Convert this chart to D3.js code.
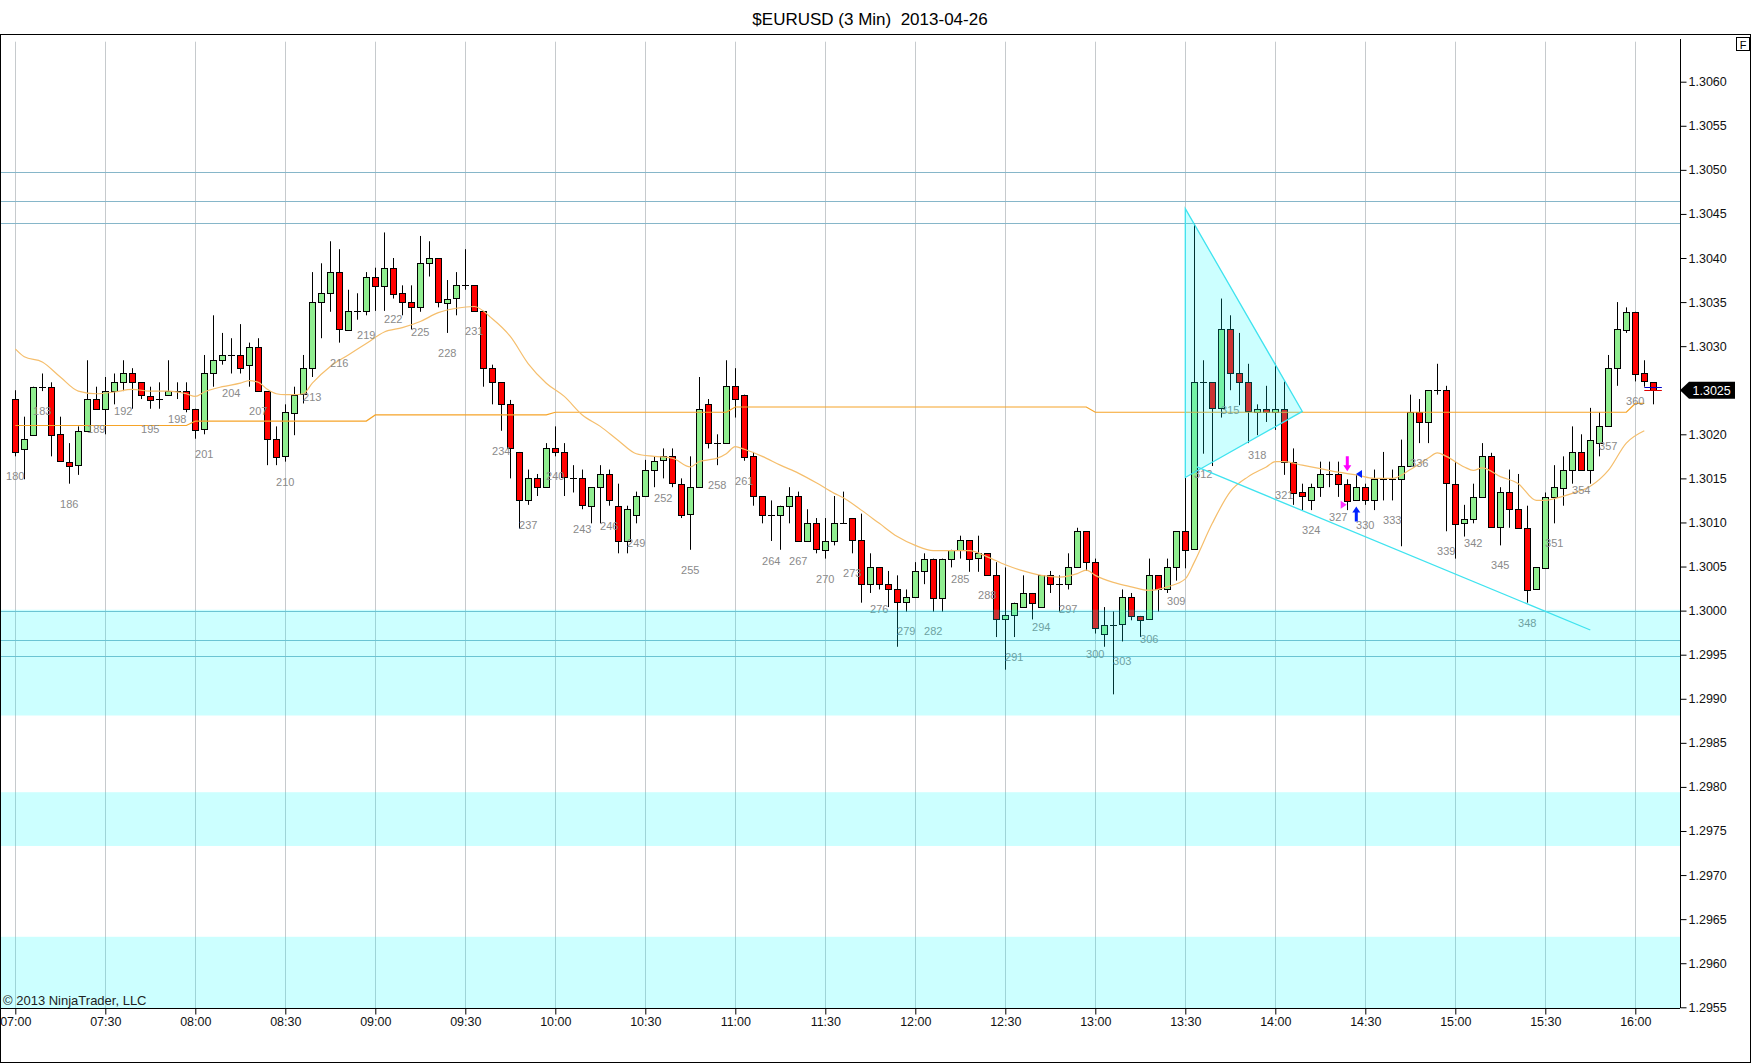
<!DOCTYPE html>
<html>
<head>
<meta charset="utf-8">
<script src="https://cdn.jsdelivr.net/npm/d3@7"></script>
<style>
  body { margin: 0; background: #fff; }
  svg { display: block; font-family: "Liberation Sans", Arial, sans-serif; }
</style>
</head>
<body>
<div id="chart"></div>
<script>
// bar numbers 180..362, 3 minute bars, bar 180 = 07:00
var firstBar = 180;

var opens = [
  1.30240,1.30184,1.30200,1.30254,1.30254,1.30200,1.30169,1.30165,1.30204,1.30240,
  1.30229,1.30249,1.30259,1.30269,1.30259,1.30244,1.30240,1.30244,1.30249,1.30249,
  1.30229,1.30205,1.30269,1.30284,1.30290,1.30290,1.30279,1.30299,1.30249,1.30195,
  1.30175,1.30225,1.30245,1.30275,1.30350,1.30360,1.30384,1.30319,1.30340,1.30340,
  1.30379,1.30369,1.30389,1.30360,1.30350,1.30344,1.30394,1.30400,1.30350,1.30354,
  1.30369,1.30369,1.30340,1.30275,1.30259,1.30234,1.30180,1.30125,1.30150,1.30140,
  1.30184,1.30180,1.30150,1.30150,1.30119,1.30140,1.30155,1.30119,1.30079,1.30109,
  1.30130,1.30160,1.30170,1.30175,1.30144,1.30109,1.30140,1.30234,1.30190,1.30190,
  1.30255,1.30245,1.30175,1.30130,1.30109,1.30109,1.30119,1.30130,1.30079,1.30099,
  1.30069,1.30079,1.30099,1.30105,1.30080,1.30030,1.30049,1.30030,1.30024,1.30009,
  1.30015,1.30045,1.30059,1.30015,1.30059,1.30069,1.30080,1.30059,1.30065,1.30040,
  1.29990,1.29995,1.30004,1.30020,1.30004,1.30040,1.30030,1.30030,1.30049,1.30090,
  1.30055,1.29974,1.29984,1.29984,1.30015,1.29994,1.29990,1.30040,1.30024,1.30049,
  1.30090,1.30069,1.30259,1.30259,1.30229,1.30319,1.30269,1.30259,1.30226,1.30229,
  1.30226,1.30229,1.30169,1.30134,1.30125,1.30140,1.30155,1.30155,1.30144,1.30125,
  1.30140,1.30125,1.30149,1.30149,1.30149,1.30164,1.30225,1.30214,1.30250,1.30250,
  1.30144,1.30099,1.30104,1.30129,1.30175,1.30094,1.30134,1.30115,1.30094,1.30024,
  1.30049,1.30129,1.30140,1.30160,1.30180,1.30160,1.30190,1.30209,1.30275,1.30319,
  1.30339,1.30269,1.30259
];
var highs = [
  1.30250,1.30220,1.30254,1.30269,1.30259,1.30220,1.30190,1.30209,1.30284,1.30254,
  1.30265,1.30269,1.30284,1.30275,1.30259,1.30254,1.30259,1.30284,1.30259,1.30259,
  1.30229,1.30290,1.30335,1.30315,1.30309,1.30325,1.30304,1.30309,1.30249,1.30209,
  1.30234,1.30254,1.30290,1.30384,1.30394,1.30419,1.30410,1.30364,1.30360,1.30384,
  1.30389,1.30429,1.30400,1.30369,1.30369,1.30425,1.30419,1.30400,1.30375,1.30384,
  1.30410,1.30369,1.30340,1.30279,1.30259,1.30239,1.30180,1.30160,1.30155,1.30190,
  1.30209,1.30190,1.30165,1.30160,1.30140,1.30165,1.30160,1.30144,1.30119,1.30135,
  1.30171,1.30175,1.30184,1.30184,1.30150,1.30175,1.30265,1.30240,1.30200,1.30284,
  1.30275,1.30245,1.30180,1.30130,1.30125,1.30119,1.30140,1.30135,1.30115,1.30105,
  1.30105,1.30130,1.30135,1.30105,1.30110,1.30065,1.30049,1.30045,1.30040,1.30024,
  1.30055,1.30065,1.30059,1.30059,1.30069,1.30085,1.30080,1.30085,1.30065,1.30055,
  1.30049,1.30009,1.30040,1.30020,1.30040,1.30045,1.30040,1.30065,1.30094,1.30090,
  1.30059,1.30004,1.29999,1.30024,1.30020,1.29994,1.30059,1.30040,1.30059,1.30090,
  1.30151,1.30439,1.30284,1.30259,1.30354,1.30335,1.30315,1.30280,1.30234,1.30255,
  1.30280,1.30260,1.30184,1.30144,1.30144,1.30169,1.30169,1.30169,1.30149,1.30154,
  1.30144,1.30160,1.30180,1.30160,1.30194,1.30245,1.30240,1.30250,1.30280,1.30255,
  1.30169,1.30120,1.30144,1.30190,1.30179,1.30140,1.30160,1.30155,1.30119,1.30049,
  1.30134,1.30165,1.30175,1.30209,1.30200,1.30230,1.30225,1.30290,1.30350,1.30344,
  1.30339,1.30284,1.30259
];
var lows = [
  1.30175,1.30149,1.30200,1.30249,1.30175,1.30169,1.30144,1.30154,1.30204,1.30229,
  1.30200,1.30234,1.30249,1.30229,1.30240,1.30229,1.30229,1.30244,1.30240,1.30225,
  1.30195,1.30200,1.30254,1.30279,1.30269,1.30269,1.30254,1.30249,1.30165,1.30165,
  1.30169,1.30199,1.30235,1.30265,1.30309,1.30339,1.30304,1.30319,1.30330,1.30335,
  1.30340,1.30340,1.30354,1.30335,1.30319,1.30339,1.30379,1.30344,1.30315,1.30335,
  1.30364,1.30340,1.30254,1.30234,1.30204,1.30150,1.30093,1.30120,1.30130,1.30140,
  1.30175,1.30130,1.30134,1.30115,1.30099,1.30099,1.30119,1.30065,1.30065,1.30099,
  1.30130,1.30140,1.30150,1.30140,1.30105,1.30069,1.30140,1.30184,1.30165,1.30190,
  1.30219,1.30170,1.30119,1.30099,1.30079,1.30069,1.30099,1.30079,1.30079,1.30065,
  1.30059,1.30074,1.30099,1.30065,1.30009,1.30020,1.30024,1.30004,1.29959,1.29999,
  1.30015,1.30030,1.29999,1.29999,1.30049,1.30059,1.30044,1.30044,1.30040,1.29970,
  1.29933,1.29970,1.30004,1.29990,1.30004,1.30020,1.29999,1.30024,1.30049,1.30045,
  1.29974,1.29959,1.29905,1.29965,1.29989,1.29970,1.29990,1.29999,1.30020,1.30034,
  1.30048,1.30069,1.30178,1.30164,1.30219,1.30250,1.30233,1.30190,1.30199,1.30214,
  1.30205,1.30154,1.30120,1.30114,1.30114,1.30129,1.30140,1.30129,1.30114,1.30125,
  1.30120,1.30114,1.30125,1.30125,1.30073,1.30164,1.30190,1.30190,1.30245,1.30090,
  1.30059,1.30084,1.30099,1.30129,1.30094,1.30074,1.30094,1.30094,1.30009,1.30024,
  1.30049,1.30099,1.30119,1.30144,1.30160,1.30144,1.30175,1.30209,1.30255,1.30315,
  1.30260,1.30254,1.30234
];
var closes = [
  1.30180,1.30195,1.30254,1.30254,1.30200,1.30169,1.30165,1.30204,1.30240,1.30229,
  1.30249,1.30259,1.30269,1.30259,1.30244,1.30240,1.30240,1.30249,1.30249,1.30229,
  1.30205,1.30269,1.30284,1.30290,1.30290,1.30275,1.30299,1.30249,1.30195,1.30175,
  1.30225,1.30245,1.30275,1.30350,1.30360,1.30384,1.30319,1.30340,1.30340,1.30379,
  1.30369,1.30389,1.30360,1.30350,1.30344,1.30394,1.30400,1.30350,1.30354,1.30369,
  1.30369,1.30340,1.30275,1.30259,1.30234,1.30184,1.30125,1.30150,1.30140,1.30184,
  1.30180,1.30152,1.30150,1.30119,1.30140,1.30155,1.30125,1.30079,1.30115,1.30130,
  1.30160,1.30170,1.30175,1.30144,1.30109,1.30140,1.30229,1.30190,1.30190,1.30255,
  1.30240,1.30175,1.30130,1.30109,1.30109,1.30119,1.30130,1.30079,1.30099,1.30069,
  1.30079,1.30099,1.30099,1.30080,1.30030,1.30049,1.30030,1.30024,1.30009,1.30015,
  1.30045,1.30059,1.30015,1.30059,1.30069,1.30080,1.30059,1.30065,1.30040,1.29990,
  1.29995,1.30009,1.30020,1.30009,1.30040,1.30030,1.30030,1.30049,1.30090,1.30055,
  1.29980,1.29984,1.29984,1.30015,1.29994,1.29989,1.30040,1.30024,1.30049,1.30090,
  1.30069,1.30259,1.30259,1.30229,1.30319,1.30269,1.30259,1.30226,1.30229,1.30226,
  1.30229,1.30169,1.30134,1.30129,1.30140,1.30155,1.30155,1.30144,1.30125,1.30140,
  1.30125,1.30149,1.30149,1.30149,1.30164,1.30225,1.30214,1.30250,1.30250,1.30144,
  1.30099,1.30104,1.30129,1.30175,1.30094,1.30134,1.30115,1.30094,1.30024,1.30049,
  1.30129,1.30140,1.30160,1.30180,1.30160,1.30194,1.30209,1.30275,1.30319,1.30339,
  1.30269,1.30260,1.30250
];

// light moving average at these bars
var maBars = [180,181,183,185,187,189,191,193,195,197,199,200,201,203,205,206,207,208,209,210,
  211,212,213,215,217,219,221,223,225,227,229,231,233,235,237,239,241,243,245,247,
  249,251,253,255,256,257,258,259,260,261,263,265,267,269,271,272,274,276,278,280,
  282,284,286,288,290,292,294,296,298,299,300,302,304,306,308,310,311,313,315,317,
  319,320,321,323,325,327,329,331,333,335,337,338,339,341,342,343,345,347,349,350,
  351,353,355,357,359,361];
var maValues = [1.30297,1.30288,1.30282,1.30265,1.30249,1.30246,1.30248,1.30251,1.30249,1.30249,
  1.30246,1.30243,1.30248,1.30254,1.30258,1.30261,1.30259,1.30251,1.30246,1.30245,
  1.30245,1.30246,1.30258,1.30277,1.30290,1.30303,1.30316,1.30321,1.30328,1.30338,
  1.30343,1.30345,1.30331,1.30311,1.30280,1.30258,1.30243,1.30222,1.30209,1.30193,
  1.30178,1.30175,1.30173,1.30163,1.30169,1.30171,1.30173,1.30178,1.30186,1.30183,
  1.30175,1.30165,1.30156,1.30145,1.30133,1.30128,1.30114,1.30099,1.30084,1.30074,
  1.30068,1.30068,1.30068,1.30061,1.30052,1.30045,1.30040,1.30038,1.30042,1.30046,
  1.30040,1.30032,1.30027,1.30023,1.30027,1.30036,1.30055,1.30099,1.30135,1.30152,
  1.30163,1.30169,1.30169,1.30165,1.30161,1.30157,1.30154,1.30150,1.30150,1.30160,
  1.30173,1.30179,1.30175,1.30163,1.30159,1.30162,1.30152,1.30144,1.30125,1.30125,
  1.30127,1.30133,1.30141,1.30159,1.30190,1.30204];

// darker stepped average
var stepBars = [180,199,200,219,220,239,240,259,260,299,300,359,360,361];
var stepValues = [1.30210,1.30210,1.30215,1.30215,1.30222,1.30222,1.30225,1.30225,
  1.30231,1.30231,1.30225,1.30225,1.30235,1.30235];

var priceTicks = [1.2955,1.2960,1.2965,1.2970,1.2975,1.2980,1.2985,1.2990,1.2995,1.3000,
  1.3005,1.3010,1.3015,1.3020,1.3025,1.3030,1.3035,1.3040,1.3045,1.3050,1.3055,1.3060];

var levelLines = [1.30497, 1.30465, 1.30440, 1.30000, 1.29967, 1.29948];
var zoneTops = [1.30001, 1.29794, 1.29630];
var zoneBottoms = [1.29881, 1.29733, 1.29500];

var triangleBars = [310, 323, 310];
var trianglePrices = [1.30456, 1.30226, 1.30151];
var trendBars = [311.3, 355];
var trendPrices = [1.30163, 1.29978];

var arrowBars = [328, 329];
var arrowPrices = [1.30158, 1.30118];
var arrowDirs = ["down", "up"];
var arrowColors = ["#ff00ff", "#0022ff"];
var pointerBars = [327.6, 329.3];
var pointerPrices = [1.30120, 1.30155];
var pointerDirs = ["right", "left"];
var pointerColors = ["#ff33ff", "#0022ff"];

var lastPrice = 1.3025;
var askPrice = 1.30254, bidPrice = 1.30250;

var W = 1752, H = 1064;
var plot = { left: 1, right: 1680, top: 35, bottom: 1008 };

var base = new Date(2013, 3, 26, 7, 0).getTime();
function barTime(n) { return new Date(base + (n - firstBar) * 180000); }

var x = d3.scaleTime()
  .domain([barTime(180), barTime(362)])
  .range([15.3, 15.3 + 182 * 9]);
var y = d3.scaleLinear().domain([1.2955, 1.3060]).range([1007.3, 81.7]);
function xb(n) { return x(barTime(n)); }

var bars = opens.map(function (o, i) {
  return { n: firstBar + i, o: o, h: highs[i], l: lows[i], c: closes[i] };
});

var svg = d3.select("#chart").append("svg")
  .attr("width", W).attr("height", H);

svg.append("text")
  .attr("x", 870).attr("y", 25)
  .attr("text-anchor", "middle")
  .style("font-size", "17px")
  .style("white-space", "pre")
  .attr("fill", "#000")
  .text("$EURUSD (3 Min)  2013-04-26");

svg.append("rect")
  .attr("x", 0.5).attr("y", 34.5)
  .attr("width", 1750).attr("height", 1028)
  .attr("fill", "#fff").attr("stroke", "#000");

svg.append("clipPath").attr("id", "plotclip")
  .append("rect")
  .attr("x", plot.left).attr("y", plot.top)
  .attr("width", plot.right - plot.left).attr("height", plot.bottom - plot.top);

var g = svg.append("g").attr("clip-path", "url(#plotclip)");

// vertical grid
var timeTicks = x.ticks(d3.timeMinute.every(30));
g.append("g").selectAll("line").data(timeTicks).enter().append("line")
  .attr("x1", function (d) { return Math.round(x(d)) + 0.5; })
  .attr("x2", function (d) { return Math.round(x(d)) + 0.5; })
  .attr("y1", 41.7).attr("y2", plot.bottom)
  .attr("stroke", "#c6cacd").attr("stroke-width", 1);

// horizontal levels
g.append("g").selectAll("line").data(levelLines).enter().append("line")
  .attr("x1", plot.left).attr("x2", plot.right)
  .attr("y1", function (d) { return Math.round(y(d)) + 0.5; })
  .attr("y2", function (d) { return Math.round(y(d)) + 0.5; })
  .attr("stroke", "#86b6c9").attr("stroke-width", 1);

// candles
var candles = g.append("g").attr("class", "candles");
candles.selectAll("line.wick").data(bars).enter().append("line")
  .attr("class", "wick")
  .attr("x1", function (d) { return Math.round(xb(d.n)) + 0.5; })
  .attr("x2", function (d) { return Math.round(xb(d.n)) + 0.5; })
  .attr("y1", function (d) { return y(d.h); })
  .attr("y2", function (d) { return y(d.l); })
  .attr("stroke", "#000").attr("stroke-width", 1);

candles.selectAll("rect.body").data(bars.filter(function (d) { return d.o !== d.c; }))
  .enter().append("rect")
  .attr("class", "body")
  .attr("x", function (d) { return Math.round(xb(d.n)) - 2.5; })
  .attr("y", function (d) { return Math.round(y(Math.max(d.o, d.c))) + 0.5; })
  .attr("width", 6)
  .attr("height", function (d) { return Math.max(1, Math.round(y(Math.min(d.o, d.c)) - y(Math.max(d.o, d.c)))); })
  .attr("fill", function (d) { return d.c > d.o ? "#90ee90" : "#ff0000"; })
  .attr("stroke", "#000").attr("stroke-width", 1);

candles.selectAll("line.doji").data(bars.filter(function (d) { return d.o === d.c; }))
  .enter().append("line")
  .attr("class", "doji")
  .attr("x1", function (d) { return Math.round(xb(d.n)) - 3; })
  .attr("x2", function (d) { return Math.round(xb(d.n)) + 4; })
  .attr("y1", function (d) { return Math.round(y(d.o)) + 0.5; })
  .attr("y2", function (d) { return Math.round(y(d.o)) + 0.5; })
  .attr("stroke", "#000").attr("stroke-width", 1);

// averages
var stepLine = d3.line()
  .x(function (d, i) { return xb(stepBars[i]); })
  .y(function (d) { return y(d); });
g.append("path").datum(stepValues)
  .attr("d", stepLine)
  .attr("fill", "none").attr("stroke", "#f6a428").attr("stroke-width", 1.2);

var maLine = d3.line()
  .x(function (d, i) { return xb(maBars[i]); })
  .y(function (d) { return y(d); })
  .curve(d3.curveMonotoneX);
g.append("path").datum(maValues)
  .attr("d", maLine)
  .attr("fill", "none").attr("stroke", "#f5be6c").attr("stroke-width", 1.2);

// bar numbers every 3 bars
g.append("g").selectAll("text").data(bars.filter(function (d) { return (d.n - firstBar) % 3 === 0 && d.n <= 360; }))
  .enter().append("text")
  .attr("x", function (d) { return xb(d.n); })
  .attr("y", function (d) { return y(d.l) + 24; })
  .attr("text-anchor", "middle")
  .style("font-size", "11px")
  .attr("fill", "#8a8a8a")
  .text(function (d) { return d.n; });

// cyan zones drawn over the bars
g.append("g").selectAll("rect").data(zoneTops).enter().append("rect")
  .attr("x", plot.left).attr("width", plot.right - plot.left)
  .attr("y", function (d) { return y(d); })
  .attr("height", function (d, i) { return y(zoneBottoms[i]) - y(d); })
  .attr("fill", "rgba(0,255,255,0.2)");

// triangle and trend line
g.append("path")
  .attr("d", d3.line()(triangleBars.map(function (b, i) { return [xb(b), y(trianglePrices[i])]; })) + "Z")
  .attr("fill", "rgba(0,255,255,0.2)")
  .attr("stroke", "#3fe3ef").attr("stroke-width", 1.3);
g.append("path")
  .attr("d", d3.line()(trendBars.map(function (b, i) { return [xb(b), y(trendPrices[i])]; })))
  .attr("fill", "none")
  .attr("stroke", "#3fe3ef").attr("stroke-width", 1.3);

// signal arrows
arrowBars.forEach(function (b, i) {
  var cx = xb(b), ty = y(arrowPrices[i]);
  var s = arrowDirs[i] === "down" ? -1 : 1;
  var pts = [[0, 0], [4, 6 * s], [1.5, 6 * s], [1.5, 15 * s], [-1.5, 15 * s], [-1.5, 6 * s], [-4, 6 * s]];
  g.append("path")
    .attr("d", d3.line()(pts.map(function (p) { return [cx + p[0], ty + p[1]]; })) + "Z")
    .attr("fill", arrowColors[i]);
});
pointerBars.forEach(function (b, i) {
  var cx = xb(b), cy = y(pointerPrices[i]);
  var s = pointerDirs[i] === "right" ? 1 : -1;
  var pts = [[3 * s, 0], [-3 * s, -4], [-3 * s, 4]];
  g.append("path")
    .attr("d", d3.line()(pts.map(function (p) { return [cx + p[0], cy + p[1]]; })) + "Z")
    .attr("fill", pointerColors[i]);
});

// bid / ask lines on the last bar
g.append("line")
  .attr("x1", xb(361)).attr("x2", xb(362.95))
  .attr("y1", Math.round(y(askPrice)) + 0.5).attr("y2", Math.round(y(askPrice)) + 0.5)
  .attr("stroke", "#0000cc").attr("stroke-width", 1);
g.append("line")
  .attr("x1", xb(361)).attr("x2", xb(362.95))
  .attr("y1", Math.round(y(bidPrice)) + 0.5).attr("y2", Math.round(y(bidPrice)) + 0.5)
  .attr("stroke", "#dd0000").attr("stroke-width", 1);

// axes
var yAxis = svg.append("g")
  .attr("transform", "translate(" + (plot.right + 0.5) + ",0)")
  .call(d3.axisRight(y).tickValues(priceTicks).tickFormat(d3.format(".4f")).tickSize(6).tickPadding(2));
yAxis.select(".domain").attr("d", "M0,39V" + plot.bottom);
yAxis.selectAll("text").style("font-size", "12.5px").attr("fill", "#111")
  .style("font-family", "'Liberation Sans', Arial, sans-serif");
// the last-price marker sits on top of this tick label
yAxis.selectAll(".tick").filter(function (d) { return Math.abs(d - lastPrice) < 1e-9; })
  .select("text").remove();

var xAxis = svg.append("g")
  .attr("transform", "translate(0," + (plot.bottom + 0.5) + ")")
  .call(d3.axisBottom(x).ticks(d3.timeMinute.every(30)).tickFormat(d3.timeFormat("%H:%M")).tickSize(6).tickPadding(3));
xAxis.select(".domain").attr("d", "M0,0H" + plot.right);
xAxis.selectAll("text").style("font-size", "12.5px").attr("fill", "#111")
  .style("font-family", "'Liberation Sans', Arial, sans-serif");

// last price marker
var ly = y(lastPrice);
svg.append("path")
  .attr("d", "M" + plot.right + "," + ly + "L" + (plot.right + 9) + "," + (ly - 8.5) +
    "H1735V" + (ly + 8.5) + "H" + (plot.right + 9) + "Z")
  .attr("fill", "#000");
svg.append("text")
  .attr("x", 1692.5).attr("y", ly + 4.5)
  .style("font-size", "12.5px")
  .attr("fill", "#fff")
  .text(d3.format(".4f")(lastPrice));

// "F" box
svg.append("rect")
  .attr("x", 1736.5).attr("y", 37.5).attr("width", 13).attr("height", 13)
  .attr("fill", "#fff").attr("stroke", "#000");
svg.append("text")
  .attr("x", 1743).attr("y", 48.5).attr("text-anchor", "middle")
  .style("font-size", "11px").attr("fill", "#000").text("F");

svg.append("text")
  .attr("x", 3).attr("y", 1005)
  .style("font-size", "13px").attr("fill", "#222")
  .text("\u00a9 2013 NinjaTrader, LLC");
</script>
</body>
</html>
